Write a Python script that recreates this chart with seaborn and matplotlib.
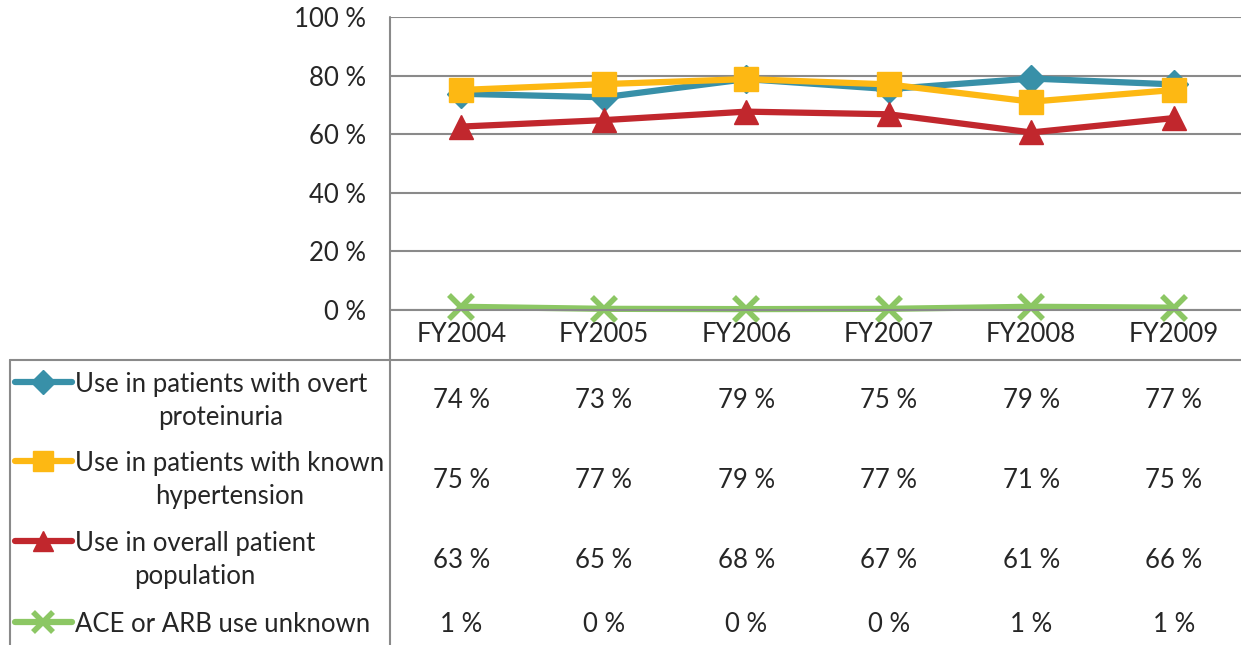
import matplotlib
matplotlib.use("Agg")
import matplotlib.pyplot as plt
from matplotlib.lines import Line2D
import pandas as pd
import seaborn as sns

# chart data
years = ["FY2004", "FY2005", "FY2006", "FY2007", "FY2008", "FY2009"]
series_names = [
    "Use in patients with overt\nproteinuria",
    "Use in patients with known\nhypertension",
    "Use in overall patient\npopulation",
    "ACE or ARB use unknown",
]
proteinuria = [73.8, 72.6, 78.8, 75.4, 79.0, 77.0]
hypertension = [75.1, 77.1, 78.8, 77.0, 71.1, 75.1]
overall = [62.6, 64.8, 67.7, 66.8, 60.6, 65.5]
unknown = [1.1, 0.4, 0.3, 0.4, 1.1, 0.8]
y_ticks = [0, 20, 40, 60, 80, 100]

colors = ["#3890A8", "#FDB813", "#C1272D", "#8CC764"]
markers = ["D", "s", "^", "x"]
msizes = [14, 17, 17, 17]

values = [proteinuria, hypertension, overall, unknown]

sns.set_style("white")
plt.rcParams["font.family"] = ["Lato", "DejaVu Sans"]
FS = 18.5

W, H = 1241, 645
fig = plt.figure(figsize=(W / 100, H / 100), dpi=100)

# plot area in pixel terms
x0, x1, ytop, ybot = 390, 1245, 17, 310
ax = fig.add_axes([x0 / W, (H - ybot) / H, (x1 - x0) / W, (ybot - ytop) / H])

for name, vals, c, m, ms in zip(series_names, values, colors, markers, msizes):
    df = pd.DataFrame({"Year": range(len(years)), "Value": vals})
    sns.lineplot(data=df, x="Year", y="Value", ax=ax, color=c, linewidth=4.5,
                 marker=m, markersize=ms, markeredgecolor=c,
                 markeredgewidth=4 if m == "x" else 1, clip_on=False)

ax.set_xlim(-0.5, len(years) - 0.5)
ax.set_ylim(0, 100)
ax.set_yticks(y_ticks)
ax.set_yticklabels([f"{t} %" for t in y_ticks], fontsize=FS)
ax.set_xticks([])
ax.set_xlabel("")
ax.set_ylabel("")
ax.tick_params(axis="y", length=0, pad=17)
ax.yaxis.grid(True, color="#8A8A8A", linewidth=1.5)
ax.set_axisbelow(True)
for s in ax.spines.values():
    s.set_visible(False)

# data table below the plot
def fx(px):
    return px / W

def fy(py):
    return 1 - py / H

grey = "#8A8A8A"
fig.add_artist(Line2D([fx(x0), fx(x0)], [fy(ytop), fy(H)], color=grey, lw=1.5))
fig.add_artist(Line2D([fx(x0), 1], [fy(ybot), fy(ybot)], color=grey, lw=1.5))
fig.add_artist(Line2D([fx(10), 1], [fy(360), fy(360)], color=grey, lw=1.5))
fig.add_artist(Line2D([fx(10), fx(10)], [fy(360), fy(H)], color=grey, lw=1.5))

col_w = (x1 - x0) / len(years)
for i, yr in enumerate(years):
    fig.text(fx(x0 + col_w * (i + 0.5)), fy(335), yr, ha="center", va="center", fontsize=FS)

row_y = [401, 480, 560, 624]
for name, vals, c, m, ms, ry in zip(series_names, values, colors, markers, msizes, row_y):
    line_y = ry - 19 if "\n" in name else ry - 2
    fig.add_artist(Line2D([fx(15), fx(43), fx(72)], [fy(line_y)] * 3, color=c, lw=4.5,
                          marker=m, markersize=ms * 0.85, markevery=[1],
                          markeredgecolor=c, markeredgewidth=4 if m == "x" else 1))
    fig.text(fx(75), fy(ry), name, ha="left", va="center", fontsize=FS,
             multialignment="center", linespacing=1.4)
    for i, v in enumerate(vals):
        fig.text(fx(x0 + col_w * (i + 0.5)), fy(ry), f"{v:.0f} %", ha="center",
                 va="center", fontsize=FS)

fig.savefig("out.png", dpi=100)
